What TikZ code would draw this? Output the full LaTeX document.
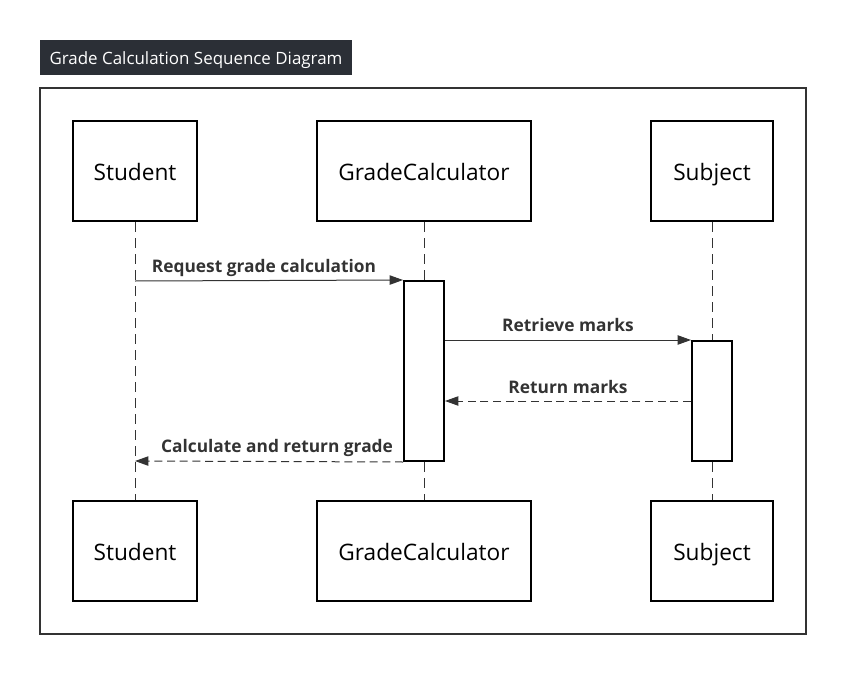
\documentclass[tikz,border=0pt]{standalone}
\usepackage{fontspec}
\setmainfont{Open Sans}
\usetikzlibrary{arrows.meta}
\definecolor{titlebg}{HTML}{2B2F36}
\definecolor{ink}{HTML}{333333}
\begin{document}
\begin{tikzpicture}[x=0.75pt,y=-0.75pt,
  part/.style={draw=black,line width=1.5pt,fill=white,minimum width=#1*0.75pt,minimum height=75pt,inner sep=0pt,text height=18pt,text depth=3.5pt,font=\fontsize{17}{20}\selectfont},
  actbox/.style={draw=black,line width=1.5pt,fill=white,minimum width=30pt,inner sep=0pt},
  life/.style={draw=ink,line width=0.6pt,dash pattern=on 7.5pt off 4.5pt},
  msg/.style={draw=ink,line width=0.75pt,-{Triangle[length=10pt,width=7pt]}},
  rmsg/.style={msg,dash pattern=on 6pt off 3.5pt},
  lbl/.style={font=\bfseries\fontsize{13}{15}\selectfont,text=ink,inner sep=0pt,text height=11pt,text depth=2.5pt}]
\useasboundingbox (0,0) rectangle (846,674);
\node[fill=titlebg,text=white,minimum width=234pt,minimum height=26.25pt,inner sep=0pt,text height=13pt,text depth=3pt,font=\fontsize{12.7}{14}\selectfont] (title) at (196,57.5) {Grade Calculation Sequence Diagram};
\draw[ink,line width=1.5pt] (40,88) rectangle (806,634);
% participants
\node[part=124] (s1) at (135,171) {Student};
\node[part=214] (g1) at (424,171) {GradeCalculator};
\node[part=122] (j1) at (712,171) {Subject};
\node[part=124] (s2) at (135,551) {Student};
\node[part=214] (g2) at (424,551) {GradeCalculator};
\node[part=122] (j2) at (712,551) {Subject};
% lifelines
\draw[life] (s1.south) -- (s2.north);
\draw[life] (g1.south) -- (g2.north);
\draw[life] (j1.south) -- (j2.north);
% activations
\node[actbox,minimum height=135pt] (ga) at (424,371) {};
\node[actbox,minimum height=90pt] (ja) at (712,401) {};
% messages
\coordinate (m1s) at (135,281);
\coordinate (m4e) at (135,461);
\draw[msg] (m1s) -- (ga.north west);
\node[lbl] at (264,267) {Request grade calculation};
\draw[msg] (ga.north east |- ja.north) -- (ja.north west);
\node[lbl] at (568,326) {Retrieve marks};
\draw[rmsg] (ja.west) -- (ga.east |- ja.west);
\node[lbl] at (568,388) {Return marks};
\draw[rmsg] (ga.south west) -- (m4e);
\node[lbl] at (277,447) {Calculate and return grade};
\end{tikzpicture}
\end{document}
